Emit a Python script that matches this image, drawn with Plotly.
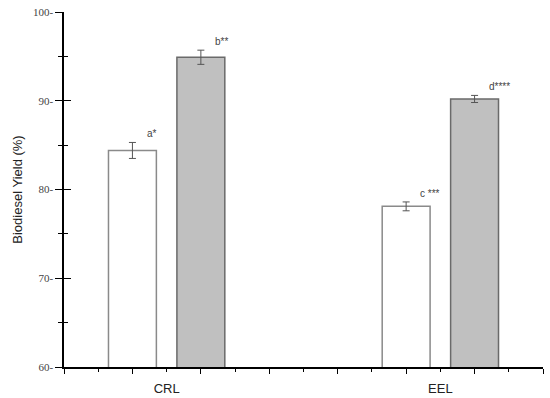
import plotly.graph_objects as go

categories = ["CRL", "EEL"]
white_vals = [84.4, 78.1]
white_err = [0.9, 0.5]
gray_vals = [94.9, 90.2]
gray_err = [0.8, 0.4]
white_labels = ["a*", "c ***"]
gray_labels = ["b**", "d****"]
y_ticks = [60, 70, 80, 90, 100]
y_ticktext = [f"{v}-" for v in y_ticks]

group_pos = [3, 11]
bar_off = 1.0
bar_w = 1.4

x_white = [g - bar_off for g in group_pos]
x_gray = [g + bar_off for g in group_pos]

fig = go.Figure()
fig.add_trace(go.Bar(
    x=x_white, y=white_vals, width=bar_w,
    marker=dict(color="white", line=dict(color="#8a8a8a", width=1.5)),
    error_y=dict(type="data", array=white_err, color="#555555", thickness=1, width=3.5),
    showlegend=False,
))
fig.add_trace(go.Bar(
    x=x_gray, y=gray_vals, width=bar_w,
    marker=dict(color="#c0c0c0", line=dict(color="#6a6a6a", width=1.5)),
    error_y=dict(type="data", array=gray_err, color="#555555", thickness=1, width=3.5),
    showlegend=False,
))
# invisible trace to carry overlay axes (crossing ticks and category labels)
fig.add_trace(go.Scatter(x=group_pos, y=[None, None], xaxis="x2", yaxis="y2",
                         mode="markers", showlegend=False, hoverinfo="skip"))

for xs, vals, errs, labs in [(x_white, white_vals, white_err, white_labels),
                             (x_gray, gray_vals, gray_err, gray_labels)]:
    for x, v, e, t in zip(xs, vals, errs, labs):
        fig.add_annotation(x=x + 0.36, y=v + e, text=t, showarrow=False,
                           xanchor="left", yanchor="bottom", yshift=1,
                           font=dict(family="Liberation Sans", size=10, color="#444444"))

fig.update_layout(
    width=550, height=398,
    margin=dict(l=64, r=7, t=12, b=31, autoexpand=False),
    plot_bgcolor="white", paper_bgcolor="white",
    barmode="overlay",
    xaxis=dict(range=[0, 14], tickmode="linear", tick0=0, dtick=2, automargin=False,
               showticklabels=False, ticks="outside", ticklen=5, tickwidth=1.2,
               tickcolor="black", showline=True, linecolor="black", linewidth=1.5,
               showgrid=False, zeroline=False,
               minor=dict(tickmode="linear", tick0=0, dtick=1, ticks="outside",
                          ticklen=3, tickwidth=1.2, tickcolor="black", showgrid=False)),
    xaxis2=dict(range=[0, 14], overlaying="x", side="bottom", tickmode="array",
                tickvals=group_pos, ticktext=categories, ticks="", showline=False,
                showgrid=False, zeroline=False, ticklabelstandoff=12, automargin=False,
                tickfont=dict(family="Liberation Sans", size=13, color="#222222")),
    yaxis=dict(range=[60, 100], tickmode="array", tickvals=y_ticks, ticktext=y_ticktext,
               ticks="outside", ticklen=7, tickwidth=1.2, tickcolor="black",
               showline=True, linecolor="black", linewidth=1.5, automargin=False,
               showgrid=False, zeroline=False, ticklabeloverflow="allow",
               tickfont=dict(family="Liberation Serif", size=11, color="#444444"),
               minor=dict(tickmode="linear", tick0=65, dtick=10, ticks="outside",
                          ticklen=4, tickwidth=1.2, tickcolor="black", showgrid=False),
               title=dict(text="Biodiesel Yield (%)", standoff=7,
                          font=dict(family="Liberation Sans", size=13, color="#222222"))),
    yaxis2=dict(range=[60, 100], overlaying="y", side="left", tickmode="array",
                tickvals=y_ticks, showticklabels=False, ticks="inside", ticklen=7,
                tickwidth=1.2, tickcolor="black", showline=False, showgrid=False,
                zeroline=False, automargin=False,
                minor=dict(tickmode="linear", tick0=65, dtick=10, ticks="inside",
                           ticklen=4, tickwidth=1.2, tickcolor="black", showgrid=False)),
)

fig.write_html("out.html", config={"displayModeBar": False},
               post_script="document.body.style.margin='0';")
